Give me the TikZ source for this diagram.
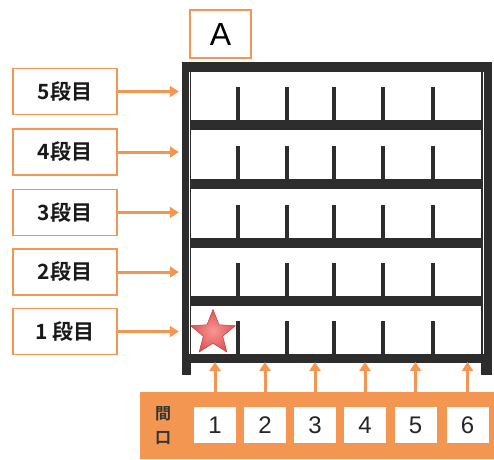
\documentclass[tikz,border=0pt]{standalone}
\usepackage{fontspec}
\setmainfont{Liberation Sans}
\newfontfamily\jpfont{Noto Sans CJK JP}
\newfontfamily\jpbold{Noto Sans CJK JP Bold}
\usetikzlibrary{shapes.geometric,arrows.meta}
\definecolor{ora}{RGB}{242,150,82}
\definecolor{frame}{RGB}{45,45,45}
\definecolor{starred}{RGB}{228,82,82}
\definecolor{starlight}{RGB}{246,150,150}
\tikzset{
  lvlbox/.style={draw=ora, line width=1.6pt, fill=white, minimum width=104pt, minimum height=46pt, inner sep=0pt, font=\jpbold\fontsize{21}{23}\selectfont, text=black!90},
  abox/.style={draw=ora, line width=1.2pt, fill=white, minimum width=61pt, minimum height=48pt, inner sep=0pt, font=\fontsize{32}{34}\selectfont},
  bay/.style={fill=white, minimum width=42pt, minimum height=36pt, inner sep=0pt, font=\fontsize{24}{26}\selectfont, text=black!85},
  oarrow/.style={draw=ora, line width=3pt, -{Triangle[length=9pt,width=11pt]}},
  bar/.style={fill=frame},
  divider/.style={fill=frame},
}
\begin{document}
\begin{tikzpicture}[x=1pt,y=-1pt]
\useasboundingbox (0,0) rectangle (494,459);
% frame
\foreach \ya/\yb in {62/72,120/130,179/189,238/248,296/306,354/363}
  \fill[bar] (182,\ya) rectangle (492,\yb);
\fill[bar] (182,62) rectangle (191,375);
\fill[bar] (481,62) rectangle (492,375);
\draw[white, line width=0.7pt] (189,72) -- (189,354);
\draw[white, line width=0.7pt] (483.5,72) -- (483.5,354);
% dividers
\foreach \yb in {120,179,238,296,354}
  \foreach \x in {238,287,334,383,433}
    \fill[divider] (\x-2.3,\yb-33) rectangle (\x+2.3,\yb);
% A box
\node[abox] (A) at (220.5,34) {A};
% level labels
\node[lvlbox] (l5) at (65,91.5) {5段目};
\node[lvlbox] (l4) at (65,152) {4段目};
\node[lvlbox] (l3) at (65,212.5) {3段目};
\node[lvlbox] (l2) at (65,272) {2段目};
\node[lvlbox] (l1) at (65,331.5) {1 段目};
\foreach \i in {1,...,5} {
  \coordinate (s\i) at ([xshift=61pt]l\i.east);
  \draw[oarrow] (l\i.east) -- (s\i);
}
% star
\node[star, star points=5, star point ratio=2.3, minimum size=47pt, inner sep=0pt,
      draw=starred!80!black, line width=0.5pt,
      inner color=starlight, outer color=starred, shading=radial] (star) at (213,333) {};
% band
\node[fill=ora, minimum width=354pt, minimum height=67pt, inner sep=0pt, anchor=north west] (band) at (140,392) {};
\node[text=black!80, font=\jpbold\fontsize{16}{24}\selectfont, align=center, inner sep=0pt] (maguchi) at (163,426) {間\\口};
\foreach \i/\x in {1/215,2/265,3/315,4/365,5/415.5,6/467.5} {
  \node[bay] (b\i) at (\x,425) {\i};
  \coordinate (t\i) at (\x,362);
  \draw[oarrow] (b\i.north |- band.north) -- (t\i);
}
\end{tikzpicture}
\end{document}
